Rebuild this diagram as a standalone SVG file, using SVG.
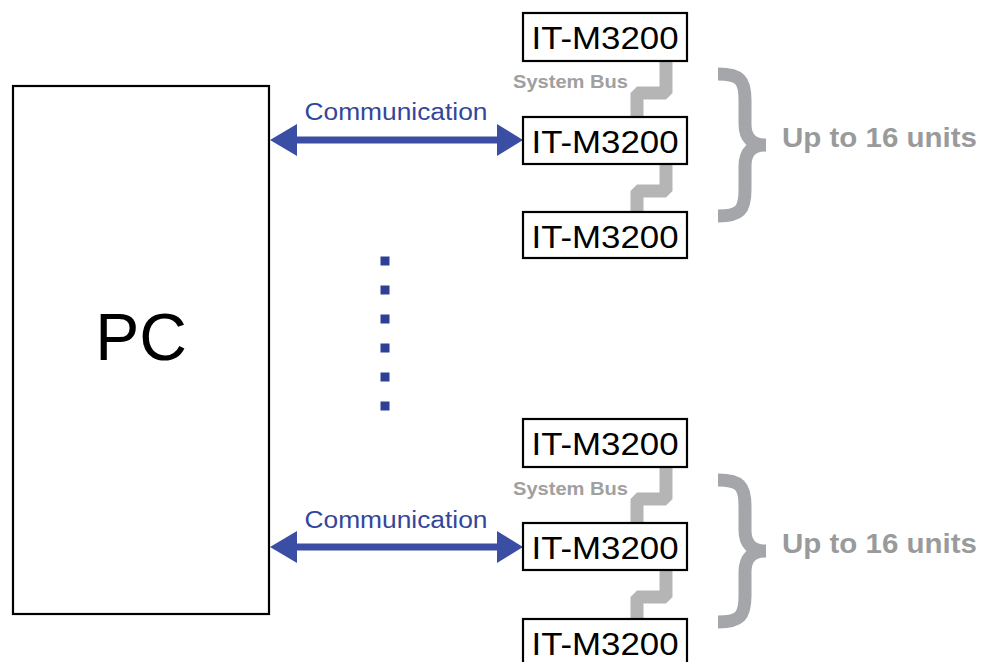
<svg xmlns="http://www.w3.org/2000/svg" width="986" height="662" viewBox="0 0 986 662">
<style>
.box{fill:#fff;stroke:#000;stroke-width:2.2}
.unit{font-family:"Liberation Sans",Arial,sans-serif;font-size:32px;fill:#000}
.pc{font-family:"Liberation Sans",Arial,sans-serif;font-size:66px;fill:#000}
.comm{font-family:"Liberation Sans",Arial,sans-serif;font-size:23px;fill:#34469c}
.bus{fill:none;stroke:#b5b5b5;stroke-width:13;stroke-linejoin:bevel}
.buslbl{font-family:"Liberation Sans",Arial,sans-serif;font-weight:bold;font-size:18px;fill:#a0a0a0}
.brace{fill:none;stroke:#a5a6aa;stroke-width:13}
.units{font-family:"Liberation Sans",Arial,sans-serif;font-weight:bold;font-size:27px;fill:#999a9c}
.arrow{fill:#3a4fa3}
.dot{fill:#2f3f96}
</style>
<rect width="986" height="662" fill="#fff"/>
<g id="connectors">
<path class="bus" d="M666,60 V93 H637 V118"/>
<path class="bus" d="M666,163 V191 H637 V213"/>
<path class="bus" d="M666,466 V499 H637 V524"/>
<path class="bus" d="M666,570 V597 H637 V620"/>
<polygon class="arrow" points="270,140 297,124 297,136.5 497,136.5 497,124 523,140 497,156 497,143.5 297,143.5 297,156"/>
<polygon class="arrow" points="270,547 297,531 297,543.5 497,543.5 497,531 523,547 497,563 497,550.5 297,550.5 297,563"/>
<text class="comm" x="396" y="120" text-anchor="middle" textLength="183" lengthAdjust="spacingAndGlyphs">Communication</text>
<text class="comm" x="396" y="528" text-anchor="middle" textLength="183" lengthAdjust="spacingAndGlyphs">Communication</text>
<text class="buslbl" x="513" y="88" textLength="115" lengthAdjust="spacingAndGlyphs">System Bus</text>
<text class="buslbl" x="513" y="495" textLength="115" lengthAdjust="spacingAndGlyphs">System Bus</text>
</g>
<g id="pc">
<rect class="box" x="13" y="86" width="256" height="528" stroke-width="2.6"/>
<text class="pc" x="141" y="360" text-anchor="middle">PC</text>
</g>
<g id="dots">
<rect class="dot" x="380.5" y="256.5" width="9" height="9"/>
<rect class="dot" x="380.5" y="285.5" width="9" height="9"/>
<rect class="dot" x="380.5" y="314.5" width="9" height="9"/>
<rect class="dot" x="380.5" y="343.5" width="9" height="9"/>
<rect class="dot" x="380.5" y="372.5" width="9" height="9"/>
<rect class="dot" x="380.5" y="401.5" width="9" height="9"/>
</g>
<g id="unit1"><rect class="box" x="523" y="13" width="164" height="48"/><text class="unit" x="605" y="49" text-anchor="middle" textLength="147" lengthAdjust="spacingAndGlyphs">IT-M3200</text></g>
<g id="unit2"><rect class="box" x="523" y="117" width="164" height="47"/><text class="unit" x="605" y="153" text-anchor="middle" textLength="147" lengthAdjust="spacingAndGlyphs">IT-M3200</text></g>
<g id="unit3"><rect class="box" x="523" y="212" width="164" height="46"/><text class="unit" x="605" y="248" text-anchor="middle" textLength="147" lengthAdjust="spacingAndGlyphs">IT-M3200</text></g>
<g id="unit4"><rect class="box" x="523" y="419" width="164" height="48"/><text class="unit" x="605" y="455" text-anchor="middle" textLength="147" lengthAdjust="spacingAndGlyphs">IT-M3200</text></g>
<g id="unit5"><rect class="box" x="523" y="523" width="164" height="47"/><text class="unit" x="605" y="559" text-anchor="middle" textLength="147" lengthAdjust="spacingAndGlyphs">IT-M3200</text></g>
<g id="unit6"><rect class="box" x="523" y="619" width="164" height="48"/><text class="unit" x="605" y="655" text-anchor="middle" textLength="147" lengthAdjust="spacingAndGlyphs">IT-M3200</text></g>
<g id="group1">
<path class="brace" d="M718,74 C740,74 745,80 745,100 L745,124 C745,138 752,145 766,145 C752,145 745,152 745,166 L745,190 C745,210 740,216 718,216"/>
<text class="units" x="782" y="147" textLength="195" lengthAdjust="spacingAndGlyphs">Up to 16 units</text>
</g>
<g id="group2">
<path class="brace" d="M718,480 C740,480 745,486 745,506 L745,530 C745,544 752,551 766,551 C752,551 745,558 745,572 L745,596 C745,616 740,622 718,622"/>
<text class="units" x="782" y="553" textLength="195" lengthAdjust="spacingAndGlyphs">Up to 16 units</text>
</g>
</svg>
